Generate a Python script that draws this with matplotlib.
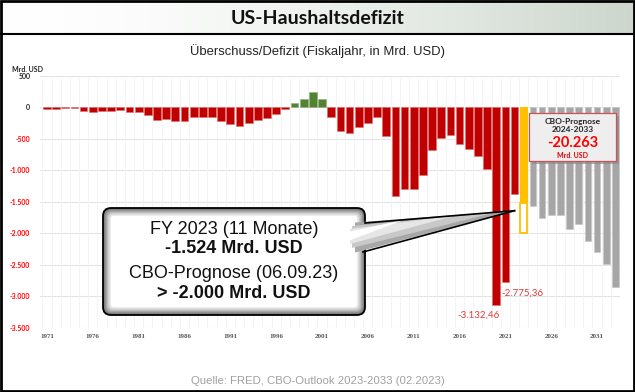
import numpy as np
import matplotlib
matplotlib.use("Agg")
import matplotlib.pyplot as plt
from matplotlib.patches import FancyBboxPatch, Rectangle, Polygon

# ---------------- data ----------------
hist_years = list(range(1971, 2023))
hist_values = [-23.0, -23.4, -14.9, -6.1, -53.2, -73.7, -53.7, -59.2, -40.7, -73.8,
               -79.0, -128.0, -207.8, -185.4, -212.3, -221.2, -149.7, -155.2, -152.6, -221.0,
               -269.2, -290.3, -255.1, -203.2, -164.0, -107.4, -21.9, 69.3, 125.6, 236.2,
               128.2, -157.8, -377.6, -412.7, -318.3, -248.2, -160.7, -458.6, -1412.7, -1294.4,
               -1299.6, -1077.0, -679.8, -484.8, -442.0, -584.7, -665.4, -779.1, -983.6, -3132.46,
               -2775.36, -1375.9]
fy2023_year = 2023
fy2023_value = -1524
fy2023_cbo = -2000
cbo_years = list(range(2024, 2034))
cbo_values = [-1569, -1757, -1716, -1704, -1931, -1851, -2113, -2300, -2479, -2847]
cbo_total = "-20.263"
ytick_values = [500, 0, -500, -1000, -1500, -2000, -2500, -3000, -3500]
ytick_labels = ["500", "0", "-500", "-1.000", "-1.500", "-2.000", "-2.500", "-3.000", "-3.500"]
xtick_years = list(range(1971, 2032, 5))

RED = "#c00000"
GREEN = "#548235"
GRAY = "#a6a6a6"
YELLOW = "#ffc000"

W, H = 635, 392
fig = plt.figure(figsize=(W / 100, H / 100), dpi=100)
fig.patch.set_facecolor("white")

# ---------------- main axes ----------------
ax = fig.add_axes([40 / W, (H - 328) / H, (620 - 40) / W, (328 - 75.7) / H])
ax.set_xlim(1970.24, 2033.5)
ax.set_ylim(-3500, 500)
for s in ax.spines.values():
    s.set_visible(False)
ax.set_facecolor("none")

# grid
for yv in ytick_values:
    ax.axhline(yv, color="#e4e4e4", lw=0.8, zorder=0)
for yr in range(1970, 2034):
    ax.axvline(yr + 0.5, color="#f3f3f3", lw=0.6, zorder=0)

bw = 0.84
colors = [GREEN if v > 0 else RED for v in hist_values]
ax.bar(hist_years, hist_values, width=bw, color=colors, edgecolor=[
    "#8fb07a" if v > 0 else "#e07070" for v in hist_values], linewidth=0.4, zorder=2)
ax.bar([fy2023_year], [fy2023_value], width=bw, color=YELLOW, linewidth=0, zorder=2)
ax.bar([fy2023_year], [fy2023_cbo - fy2023_value], bottom=[fy2023_value], width=bw * 0.85,
       facecolor="white", edgecolor=YELLOW, linewidth=1.3, zorder=2)
ax.bar(cbo_years, cbo_values, width=bw * 0.88, color=GRAY, edgecolor="#c4c4c4", linewidth=0.4, zorder=2)

# value labels
ax.text(2020 + bw / 2, hist_values[2020 - 1971] - 95, "-3.132,46", color="#e03c3c",
        fontsize=7, family="Lato", ha="right", va="top", zorder=5)
ax.text(2021 - bw / 2, hist_values[2021 - 1971] - 95, "-2.775,36", color="#e03c3c",
        fontsize=7, family="Lato", ha="left", va="top", zorder=5)

ax.set_yticks(ytick_values)
ax.set_yticklabels(ytick_labels, fontsize=5, family="Lato", fontweight="bold")
for lab, v in zip(ax.get_yticklabels(), ytick_values):
    lab.set_color("#ff0000" if v < 0 else "#222222")
ax.set_xticks(xtick_years)
ax.set_xticklabels([str(y) for y in xtick_years], fontsize=5, family="Liberation Serif",
                   fontweight="bold", color="#555555")
ax.tick_params(length=0, axis="y", pad=7)
ax.tick_params(length=0, axis="x", pad=4)

# ---------------- overlay (pixel coordinates) ----------------
ov = fig.add_axes([0, 0, 1, 1], zorder=10)
ov.set_xlim(0, W)
ov.set_ylim(H, 0)
ov.axis("off")
ov.patch.set_alpha(0)

# title band gradient
grad = np.linspace(0, 1, 256) ** 1.6
c0 = np.array([1.0, 1.0, 1.0])
c1 = np.array([0.80, 0.84, 0.80])
img = c0[None, None, :] * (1 - grad[None, :, None]) + c1[None, None, :] * grad[None, :, None]
ov.imshow(img, extent=[0, W, 34, 0], aspect="auto", zorder=0)
ov.plot([0, W], [34, 34], color="black", lw=1.5, zorder=1)
ov.add_patch(Rectangle((1, 1), W - 2, H - 2, fill=False, edgecolor="black", lw=2, zorder=20))

ov.text(W / 2, 18, "US-Haushaltsdefizit", ha="center", va="center", fontsize=14,
        family="Lato", fontweight="bold", color="#111111")
ov.text(W / 2, 51.5, "Überschuss/Defizit (Fiskaljahr, in Mrd. USD)", ha="center", va="center",
        fontsize=9.4, family="Liberation Sans", color="#222222")
ov.text(12, 69, "Mrd. USD", ha="left", va="center", fontsize=5, family="Lato",
        fontweight="bold", color="#222222")
ov.text(W / 2, 381, "Quelle: FRED, CBO-Outlook 2023-2033 (02.2023)", ha="center", va="center",
        fontsize=8.2, family="Liberation Sans", color="#a0a0a0")

# callout box with inner shading
bx0, by0, bx1, by1 = 103, 208, 365, 315
shades = ["#6e6e6e", "#8a8a8a", "#a4a4a4", "#bdbdbd", "#d4d4d4", "#e8e8e8", "#ffffff"]
for i, c in enumerate(shades):
    ins = i * 1.3
    ov.add_patch(FancyBboxPatch((bx0 + ins, by0 + ins), (bx1 - bx0) - 2 * ins, (by1 - by0) - 2 * ins,
                                boxstyle="round,pad=0,rounding_size=%g" % max(8 - ins * 0.6, 2),
                                facecolor=c, edgecolor="black" if i == 0 else "none",
                                lw=1.3, zorder=3))

# pointer tip computed from data position
tip_disp = ax.transData.transform((2022.0, -1640))
tip = (tip_disp[0], H - tip_disp[1])
up0 = (365, 223)
lo0 = (363, 252)
ov.add_patch(Polygon([(355, 222.5), tip, (355, 252.5)], closed=True, facecolor="#a8a8a8",
                     edgecolor="none", zorder=4))
ov.add_patch(Polygon([(352, 226), (tip[0] - 20, tip[1] + 2), (352, 248)], closed=True,
                     facecolor="#c8c8c8", edgecolor="none", zorder=4))
ov.add_patch(Polygon([(350, 229), (tip[0] - 60, tip[1] + 5), (350, 244)], closed=True,
                     facecolor="#e6e6e6", edgecolor="none", zorder=4))
ov.add_patch(Polygon([(348, 232), (tip[0] - 110, tip[1] + 9), (348, 241)], closed=True,
                     facecolor="#ffffff", edgecolor="none", zorder=4))
ov.plot([up0[0], tip[0]], [up0[1], tip[1]], color="black", lw=1.2, zorder=5)
ov.plot([lo0[0], tip[0]], [lo0[1], tip[1]], color="black", lw=1.2, zorder=5)

cx = (bx0 + bx1) / 2
ov.text(cx, 229, "FY 2023 (11 Monate)", ha="center", va="center", fontsize=13,
        family="Liberation Sans", color="#111111", zorder=6)
ov.text(cx, 248, "-1.524 Mrd. USD", ha="center", va="center", fontsize=13,
        family="Liberation Sans", fontweight="bold", color="#111111", zorder=6)
ov.text(cx, 274, "CBO-Prognose (06.09.23)", ha="center", va="center", fontsize=13,
        family="Liberation Sans", color="#111111", zorder=6)
ov.text(cx, 293, "> -2.000 Mrd. USD", ha="center", va="center", fontsize=13,
        family="Liberation Sans", fontweight="bold", color="#111111", zorder=6)

# CBO total box
qx0, qy0, qx1, qy1 = 529, 113, 616, 161
ov.add_patch(Rectangle((qx0 + 2.5, qy0 + 2.5), qx1 - qx0, qy1 - qy0, facecolor="#8c8c8c",
                       edgecolor="none", alpha=0.7, zorder=3))
ov.add_patch(Rectangle((qx0, qy0), qx1 - qx0, qy1 - qy0, facecolor="#eeeeee",
                       edgecolor="#d05050", lw=0.9, zorder=4))
qcx = (qx0 + qx1) / 2
ov.text(qcx, 121, "CBO-Prognose", ha="center", va="center", fontsize=6, family="Lato",
        fontweight="bold", color="#222222", zorder=6)
ov.text(qcx, 130, "2024-2033", ha="center", va="center", fontsize=6, family="Lato",
        fontweight="bold", color="#222222", zorder=6)
ov.text(qcx, 142.5, cbo_total, ha="center", va="center", fontsize=10.5, family="Lato",
        fontweight="bold", color="#ff0000", zorder=6)
ov.text(qcx, 155, "Mrd. USD", ha="center", va="center", fontsize=5, family="Lato",
        fontweight="bold", color="#e00000", zorder=6)

fig.savefig("out.png", dpi=100)
